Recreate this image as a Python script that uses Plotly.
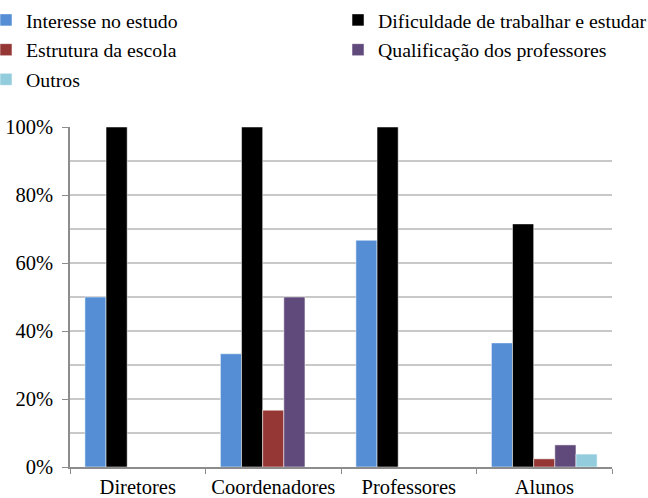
import plotly.graph_objects as go

categories = ["Diretores", "Coordenadores", "Professores", "Alunos"]
series_names = ["Interesse no estudo", "Dificuldade de trabalhar e estudar",
                "Estrutura da escola", "Qualificação dos professores", "Outros"]
interesse = [0.50, 0.333, 0.667, 0.365]
dificuldade = [1.00, 1.00, 1.00, 0.715]
estrutura = [0.0, 0.167, 0.0, 0.024]
qualificacao = [0.0, 0.50, 0.0, 0.065]
outros = [0.0, 0.0, 0.0, 0.038]
colors = ["#558ED5", "#000000", "#953735", "#604A7B", "#93CDDD"]
legend_ref = ["legend", "legend2", "legend", "legend2", "legend"]

values = [interesse, dificuldade, estrutura, qualificacao, outros]

fig = go.Figure()
for i, (name, vals, col, lg) in enumerate(zip(series_names, values, colors, legend_ref)):
    fig.add_trace(go.Bar(
        x=categories, y=vals, name=name, legend=lg, legendgroup=f"g{i}",
        marker=dict(color=col, line=dict(color="white", width=0.5)),
    ))

font_family = "Liberation Serif"
fs = 20.5
lfs = 19.8
leg_common = dict(
    orientation="v", yanchor="top", xanchor="left",
    font=dict(family=font_family, size=lfs, color="black"),
    itemwidth=30, traceorder="grouped", tracegroupgap=1,
    bgcolor="rgba(0,0,0,0)",
)
fig.update_layout(
    width=648, height=498,
    margin=dict(l=70, r=36, t=127, b=31, autoexpand=False),
    paper_bgcolor="white", plot_bgcolor="white",
    barmode="group", bargap=0.22, bargroupgap=0.0,
    font=dict(family=font_family, size=fs, color="black"),
    legend=dict(x=-0.155, y=1.372, **leg_common),
    legend2=dict(x=0.4945, y=1.372, **leg_common),
    showlegend=True,
)
fig.update_yaxes(
    range=[0, 1.0], dtick=0.2, tickformat=".0%",
    showgrid=True, gridcolor="#c8c8c8", gridwidth=1.5,
    minor=dict(dtick=0.1, showgrid=True, gridcolor="#c8c8c8", gridwidth=1.5),
    showline=True, linecolor="#8c8c8c", linewidth=1.5,
    ticks="outside", ticklen=6, tickcolor="#8c8c8c",
    zeroline=False, tickfont=dict(size=fs), automargin=False,
    ticklabelstandoff=5,
)
fig.update_xaxes(
    showline=True, linecolor="#8c8c8c", linewidth=1.5,
    ticks="outside", tickson="boundaries", ticklen=5, tickcolor="#8c8c8c",
    showgrid=False, tickfont=dict(size=fs), automargin=False,
    ticklabelstandoff=1,
)
fig.write_html("out.html")
